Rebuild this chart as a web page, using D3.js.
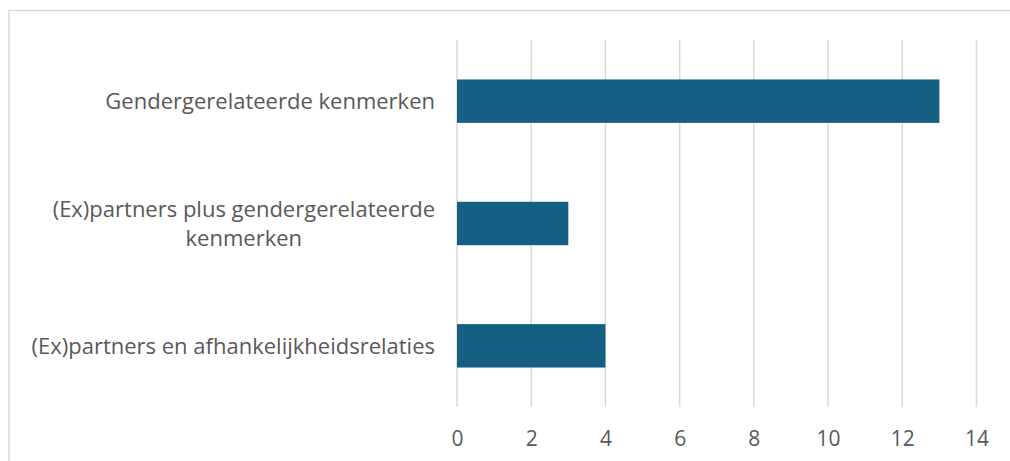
<!DOCTYPE html>
<html>
<head>
<meta charset="utf-8">
<script src="https://cdn.jsdelivr.net/npm/d3@7"></script>
<style>
  body { margin: 0; background: #fff; }
  svg { display: block; font-family: "Open Sans", Roboto, sans-serif; }
</style>
</head>
<body>
<div class="chart"></div>
<script>
// categories top to bottom, each split in the lines shown
const categories = [
  ['Gendergerelateerde kenmerken'],
  ['(Ex)partners plus gendergerelateerde', 'kenmerken'],
  ['(Ex)partners en afhankelijkheidsrelaties']
];
const values = [13, 3, 4];
const xTicks = [0, 2, 4, 6, 8, 10, 12, 14];

const width = 1010;
const height = 461;
const plot = { left: 457, right: 976.5, top: 40, bottom: 407 };

const svg = d3.select('.chart')
  .append('svg')
  .attr('width', width)
  .attr('height', height);

// frame of the chart area
svg.append('path')
  .attr('d', `M9,${height} V10.5 H${width}`)
  .attr('fill', 'none')
  .attr('stroke', '#d9d9d9')
  .attr('stroke-width', 1.5);

const xScale = d3.scaleLinear()
  .domain([0, 14])
  .range([plot.left, plot.right]);

const yScale = d3.scaleBand()
  .domain(d3.range(categories.length))
  .range([plot.top, plot.bottom])
  .paddingInner(0.645)
  .paddingOuter(0.3225);

// gridlines
svg.append('g')
  .selectAll('line')
  .data(xTicks)
  .join('line')
  .attr('x1', d => xScale(d))
  .attr('x2', d => xScale(d))
  .attr('y1', plot.top)
  .attr('y2', plot.bottom)
  .attr('stroke', '#d9d9d9')
  .attr('stroke-width', 1.5);

// bars
svg.append('g')
  .selectAll('rect')
  .data(values)
  .join('rect')
  .attr('x', xScale(0))
  .attr('y', (d, i) => yScale(i))
  .attr('width', d => xScale(d) - xScale(0))
  .attr('height', yScale.bandwidth())
  .attr('fill', '#156082');

// x axis labels
const xAxis = d3.axisBottom(xScale)
  .tickValues(xTicks)
  .tickSize(0)
  .tickPadding(0);

svg.append('g')
  .attr('transform', `translate(0, ${plot.bottom + 31})`)
  .call(xAxis)
  .call(g => g.select('.domain').remove())
  .selectAll('text')
  .attr('dy', '0.36em')
  .attr('fill', '#595959')
  .style('font-family', '"Open Sans", Roboto, sans-serif')
  .style('font-size', '21px');

// category labels, multi-line ones centered on their widest line
const labelRight = 435;
const lineHeight = 29;
const labels = svg.append('g')
  .style('font-size', '22px')
  .attr('fill', '#595959');

categories.forEach((lines, i) => {
  const cy = yScale(i) + yScale.bandwidth() / 2;
  const t = labels.append('text')
    .attr('text-anchor', 'middle');
  lines.forEach((line, j) => {
    t.append('tspan')
      .attr('y', cy + (j - (lines.length - 1) / 2) * lineHeight)
      .attr('dy', '0.36em')
      .text(line);
  });
  const w = d3.max(t.selectAll('tspan').nodes(), n => n.getComputedTextLength());
  t.selectAll('tspan').attr('x', labelRight - w / 2);
});
</script>
</body>
</html>
